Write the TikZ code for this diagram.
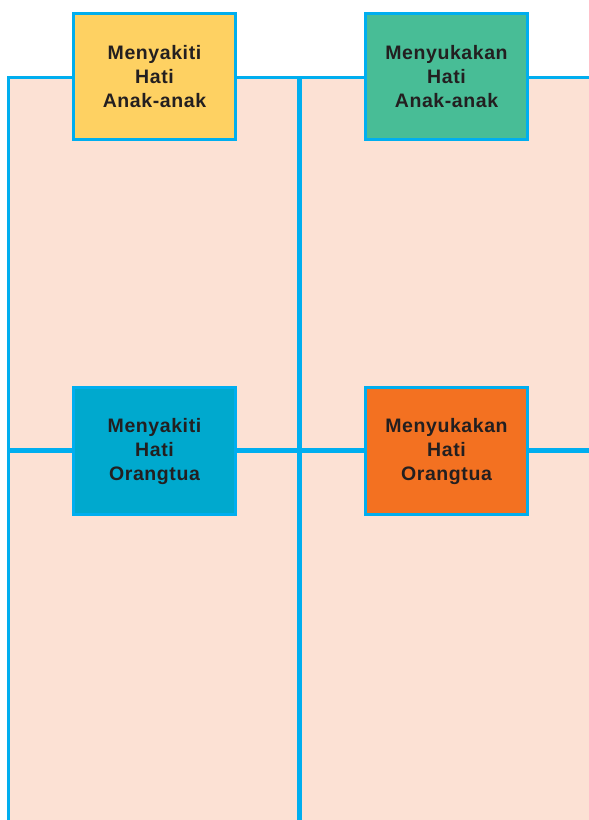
\documentclass[tikz,border=0pt]{standalone}
\usepackage{fontspec}
\setmainfont{Liberation Sans}
\newfontfamily\boxfont[LetterSpace=3]{Liberation Sans}
\usetikzlibrary{positioning}
\definecolor{frameblue}{HTML}{00AEEF}
\definecolor{panelpink}{HTML}{FCE1D4}
\definecolor{childyellow}{HTML}{FED162}
\definecolor{childgreen}{HTML}{48BD96}
\definecolor{parentblue}{HTML}{00A9CE}
\definecolor{parentorange}{HTML}{F37121}
\definecolor{labeltext}{HTML}{231F20}
\tikzset{
    frame style/.style={draw=frameblue,line width=2.6pt},
    panel style/.style={frame style,fill=panelpink},
    label box/.style={frame style,fill=#1,minimum width=162.5pt,minimum height=126.5pt,
        inner sep=0pt,align=center,text=labeltext,
        font=\boxfont\fontsize{19.5}{24}\selectfont\bfseries},
}

\begin{document}
\begin{tikzpicture}[x=1pt,y=-1pt]
        \useasboundingbox (0,0) rectangle (589,820);
        \clip (0,0) rectangle (589,820);
        % four panels, open at the right and at the bottom
        \foreach \xa/\xb in {8.5/298.25,300.75/610}{
            \draw[panel style] (\xa,77.5) rectangle (\xb,449.25);
            \draw[panel style] (\xa,451.75) rectangle (\xb,840);
        }
        
        \node[label box=childyellow] (hurtchild) at (154.5,76.5) {Menyakiti\\Hati\\Anak-anak};
        \node[label box=childgreen] (pleasechild) at (446.5,76.5) {Menyukakan\\Hati\\Anak-anak};
        \node[label box=parentblue] (hurtparent) at (154.5,451) {Menyakiti\\Hati\\Orangtua};
        \node[label box=parentorange] (pleaseparent) at (446.5,451) {Menyukakan\\Hati\\Orangtua};
    \end{tikzpicture}
\end{document}
